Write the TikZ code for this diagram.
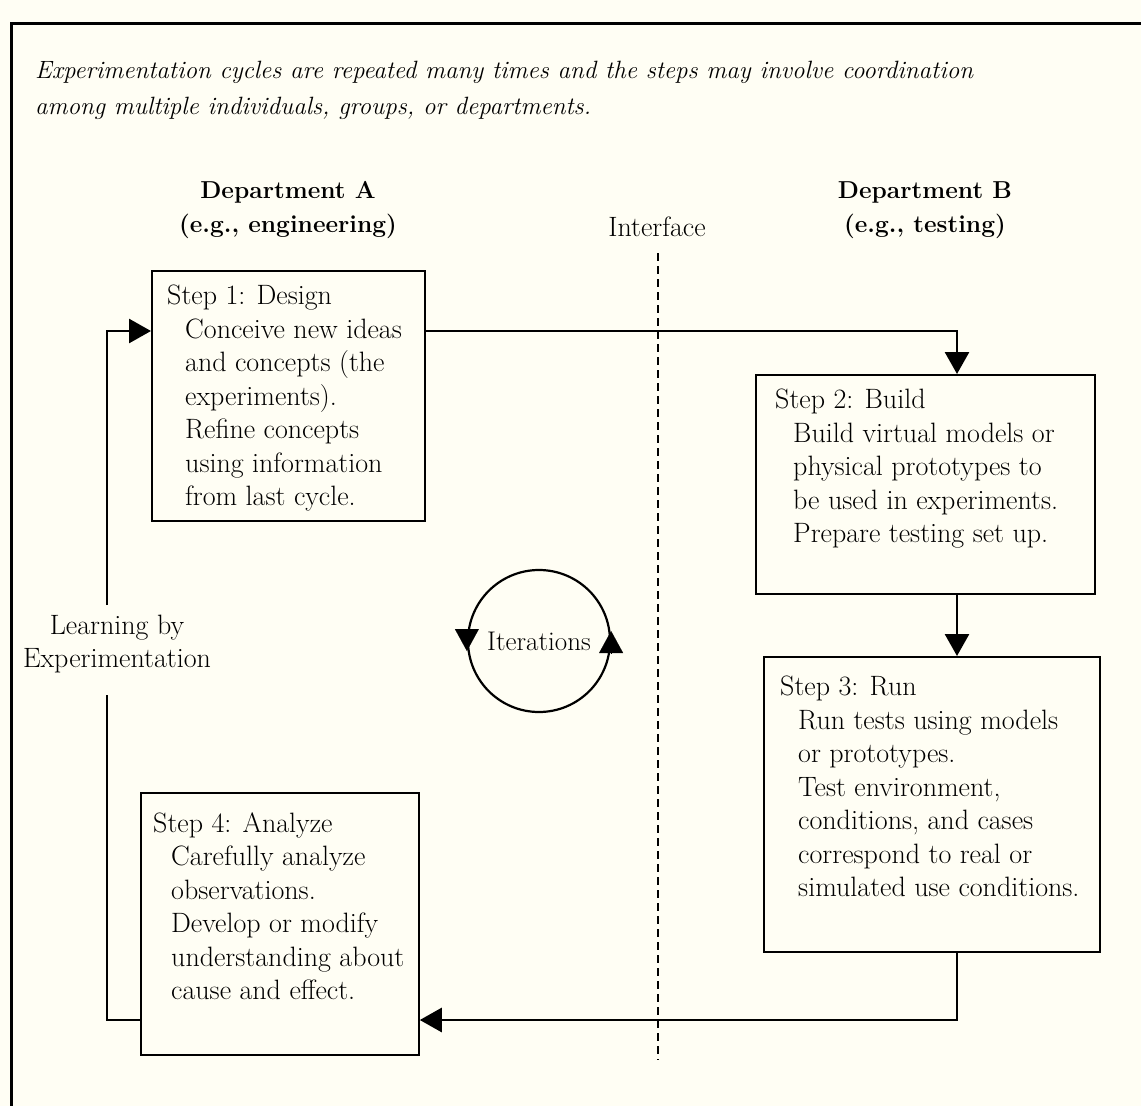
\documentclass[tikz,border=0pt]{standalone}
\usetikzlibrary{arrows.meta}
\definecolor{paper}{HTML}{FFFEF4}
\newcommand{\ind}{\hspace*{18pt}}
\begin{document}
\begin{tikzpicture}[x=1pt,y=-1pt,
  stepbox/.style={draw, line width=1.8pt, anchor=north west, inner sep=0pt},
  txt/.style={anchor=north west, inner sep=0pt, align=left, font=\fontsize{28}{33.5}\selectfont},
  head/.style={anchor=base, inner sep=0pt, align=center, font=\fontsize{24.5}{34}\selectfont\bfseries},
  arr/.style={line width=2.8pt, -{Triangle[length=22pt,width=24pt]}},
  link/.style={line width=2.8pt}]
\fill[paper] (0,0) rectangle (1141,1106);
\useasboundingbox (0,0) rectangle (1141,1106);
\draw[line width=3pt] (1141,23) -- (11,23) -- (11,1106);

\node[anchor=north west, inner sep=0pt, align=left, font=\fontsize{25}{36}\selectfont\itshape] (intro) at (35,60.5)
  {Experimentation cycles are repeated many times and the steps may involve coordination\\
   among multiple individuals, groups, or departments.};

\node[head] (depA) at (288,232) {Department A\\(e.g., engineering)};
\node[head] (depB) at (925,232) {Department B\\(e.g., testing)};
\node[anchor=base, inner sep=0pt, font=\fontsize{28}{30}\selectfont] (iface) at (657,236) {Interface};

\coordinate (dtop) at (658,253);
\coordinate (dbot) at (658,1060);
\draw[line width=2pt, dash pattern=on 8pt off 5pt] (dtop) -- (dbot);

\node[stepbox, minimum width=273pt, minimum height=250pt] (s1) at (151,270) {};
\node[stepbox, minimum width=339pt, minimum height=219pt] (s2) at (755,374) {};
\node[stepbox, minimum width=336pt, minimum height=295pt] (s3) at (763,656) {};
\node[stepbox, minimum width=278pt, minimum height=262pt] (s4) at (140,792) {};

\node[txt] (t1) at (167,285) {Step 1: Design\\
\ind Conceive new ideas\\
\ind and concepts (the\\
\ind experiments).\\
\ind Refine concepts\\
\ind using information\\
\ind from last cycle.};
\node[txt] (t2) at (775,389) {Step 2: Build\\
\ind Build virtual models or\\
\ind physical prototypes to\\
\ind be used in experiments.\\
\ind Prepare testing set up.};
\node[txt] (t3) at (780,676) {Step 3: Run\\
\ind Run tests using models\\
\ind or prototypes.\\
\ind Test environment,\\
\ind conditions, and cases\\
\ind correspond to real or\\
\ind simulated use conditions.};
\node[txt] (t4) at (153,812) {Step 4: Analyze\\
\ind Carefully analyze\\
\ind observations.\\
\ind Develop or modify\\
\ind understanding about\\
\ind cause and effect.};

\node[anchor=base, inner sep=0pt, align=center, font=\fontsize{28}{33}\selectfont] (learn) at (117,667) {Learning by\\Experimentation};

\coordinate (cx) at (957,0);
\coordinate (yA) at (0,331);
\coordinate (yB) at (0,1020);
\coordinate (g1) at (107,695);
\coordinate (g2) at (107,605);

\draw[arr] (s1.east |- yA) -| (cx |- s2.north);
\draw[arr] (cx |- s2.south) -- (cx |- s3.north);
\draw[arr] (cx |- s3.south) |- (s4.east |- yB);
\draw[link] (s4.west |- yB) -| (g1);
\draw[arr] (g2) |- (s1.west |- yA);

\node[circle, draw, line width=2.2pt, minimum size=142pt, inner sep=0pt] (iter) at (539,641) {};
\node[inner sep=0pt, font=\fontsize{27}{30}\selectfont] (itxt) at (539,641) {Iterations};
\draw[-{Triangle[length=22pt,width=24pt]}, line width=0.1pt] (iter.west) ++(0,-12) -- ++(0,22);
\draw[-{Triangle[length=22pt,width=24pt]}, line width=0.1pt] (iter.east) ++(0,12) -- ++(0,-22);
\end{tikzpicture}
\end{document}
